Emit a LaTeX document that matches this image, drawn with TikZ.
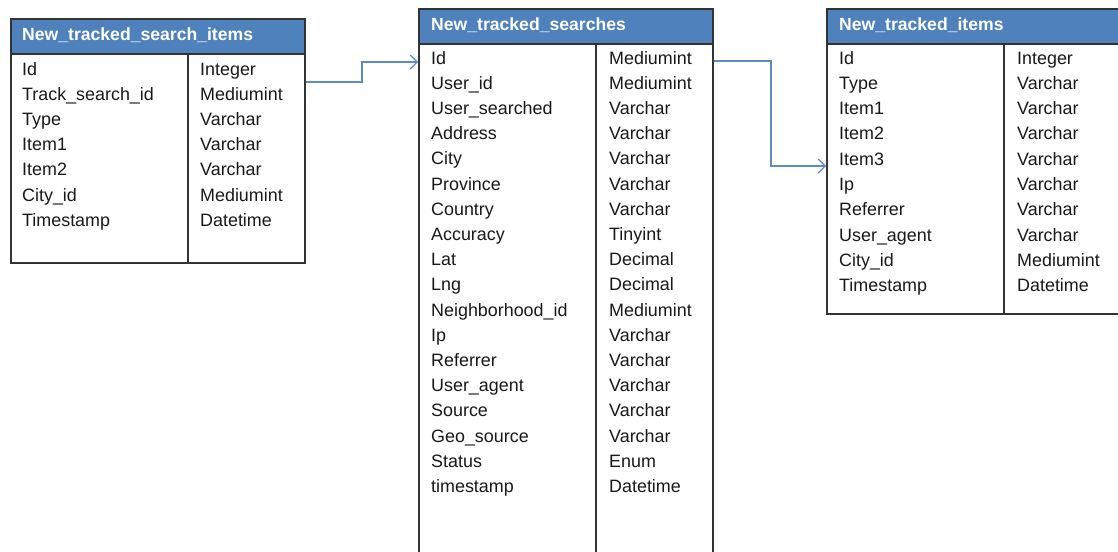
\documentclass[tikz,border=0pt]{standalone}
\usepackage{fontspec}
\setmainfont{Liberation Sans}
\usetikzlibrary{arrows.meta}
\definecolor{hdrblue}{HTML}{4F81BD}
\definecolor{linkblue}{HTML}{5B8CC8}
\definecolor{rulegray}{HTML}{333333}
\tikzset{
  tblframe/.style={draw=rulegray, line width=2pt, inner sep=0, anchor=north west},
  tblhdr/.style={tblframe, fill=hdrblue},
  tbldiv/.style={draw=rulegray, line width=1.6pt},
  tbltitle/.style={anchor=base west, inner sep=0, text=white, font=\fontsize{17.6}{17.6}\selectfont\bfseries},
  tblcell/.style={anchor=base west, inner sep=0, text=black!90, font=\fontsize{17.9}{17.9}\selectfont},
  link/.style={draw=linkblue, line width=1.2pt, -{Straight Barb[length=7pt,width=14pt]}},
}
\begin{document}
\begin{tikzpicture}[x=1pt,y=-1pt]
  \useasboundingbox (0,0) rectangle (1118,551);
  \fill[white] (0,0) rectangle (1118,551);
  \clip (0,0) rectangle (1118,551);

  % New_tracked_search_items
  \node[tblframe, minimum width=294pt, minimum height=244pt] (t1) at (10,18) {};
  \node[tblhdr, minimum width=294pt, minimum height=35pt] (t1h) at (10,18) {};
  \node[tbltitle] (t1t) at (22,41) {New\_tracked\_search\_items};
  \draw[tbldiv] ([xshift=178pt]t1h.south west) -- ([xshift=178pt]t1.south west);
  \foreach \n/\t [count=\i] in {Id/Integer, Track\_search\_id/Mediumint, Type/Varchar,
      Item1/Varchar, Item2/Varchar, City\_id/Mediumint, Timestamp/Datetime} {
    \node[tblcell] (t1n\i) at (22,{75+25.2*(\i-1)}) {\n};
    \node[tblcell] (t1y\i) at (200,{75+25.2*(\i-1)}) {\t};
  }

  % New_tracked_searches
  \node[tblframe, minimum width=294pt, minimum height=560pt] (t2) at (418,8) {};
  \node[tblhdr, minimum width=294pt, minimum height=35pt] (t2h) at (418,8) {};
  \node[tbltitle] (t2t) at (431,31) {New\_tracked\_searches};
  \draw[tbldiv] ([xshift=178pt]t2h.south west) -- ([xshift=178pt]t2.south west);
  \foreach \n/\t [count=\i] in {Id/Mediumint, User\_id/Mediumint, User\_searched/Varchar,
      Address/Varchar, City/Varchar, Province/Varchar, Country/Varchar, Accuracy/Tinyint,
      Lat/Decimal, Lng/Decimal, Neighborhood\_id/Mediumint, Ip/Varchar, Referrer/Varchar,
      User\_agent/Varchar, Source/Varchar, Geo\_source/Varchar, Status/Enum,
      timestamp/Datetime} {
    \node[tblcell] (t2n\i) at (431,{64+25.2*(\i-1)}) {\n};
    \node[tblcell] (t2y\i) at (609,{64+25.2*(\i-1)}) {\t};
  }

  % New_tracked_items
  \node[tblframe, minimum width=310pt, minimum height=305pt] (t3) at (826,8) {};
  \node[tblhdr, minimum width=310pt, minimum height=35pt] (t3h) at (826,8) {};
  \node[tbltitle] (t3t) at (839,31) {New\_tracked\_items};
  \draw[tbldiv] ([xshift=178pt]t3h.south west) -- ([xshift=178pt]t3.south west);
  \foreach \n/\t [count=\i] in {Id/Integer, Type/Varchar, Item1/Varchar, Item2/Varchar,
      Item3/Varchar, Ip/Varchar, Referrer/Varchar, User\_agent/Varchar,
      City\_id/Mediumint, Timestamp/Datetime} {
    \node[tblcell] (t3n\i) at (839,{64+25.3*(\i-1)}) {\n};
    \node[tblcell] (t3y\i) at (1017,{64+25.3*(\i-1)}) {\t};
  }

  % Relations between the tables
  \draw[link] ([yshift=-64pt]t1.north east) -- ++(56pt,0pt) |- ([yshift=-54pt]t2.north west);
  \draw[link] ([yshift=-53pt]t2.north east) -- ++(57pt,0pt) |- ([yshift=-158pt]t3.north west);
\end{tikzpicture}
\end{document}
